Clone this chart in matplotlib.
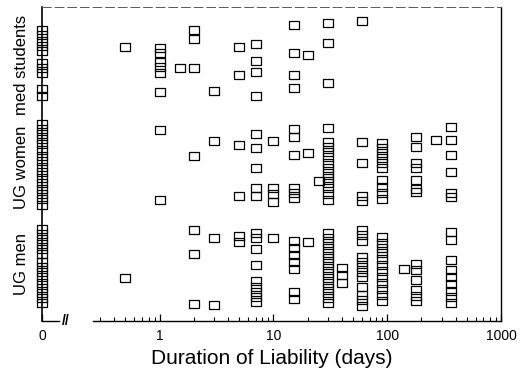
import matplotlib
matplotlib.use("Agg")
import matplotlib.pyplot as plt
import matplotlib.transforms as mtransforms
import numpy as np

plt.rcParams["font.family"] = ["Liberation Sans", "DejaVu Sans"]

# ── Data: duration in days (0 = no liability) and vertical jitter row ─────────
med_days = [0, 0, 0, 0, 0, 0, 0, 0, 0, 0,
            0.5, 1, 1, 1, 1, 1, 1, 1.5, 2, 2, 2, 3, 5, 5,
            7, 7, 7, 7, 15, 15, 15, 15, 20, 30, 30, 30, 60]
med_pos = [30, 35, 41, 46, 51, 63, 68, 73, 89, 96,
           47, 48, 53, 62, 67, 73, 92, 68, 30, 39, 68, 91, 47, 75,
           44, 61, 72, 96, 25, 53, 75, 88, 55, 23, 43, 83, 21]

women_days = ([0] * 16 +
              [1, 1, 2, 3, 5, 5, 7, 7, 7, 7, 7, 10, 10, 10, 10,
               15, 15, 15, 15, 15, 15, 20, 25] +
              [30] * 13 + [60] * 4 + [90] * 10 + [180] * 7 + [270] +
              [365] * 6)
women_pos = [124, 129, 134, 139, 144, 150, 156, 161, 167, 172, 178, 183,
             189, 194, 199, 205,
             130, 200, 156, 141, 145, 196, 134, 148, 168, 188, 196,
             141, 188, 194, 202, 129, 137, 155, 188, 193, 198, 153, 181,
             128, 142, 147, 152, 157, 163, 168, 173, 178, 183, 188, 194, 200,
             142, 163, 196, 201,
             143, 148, 153, 158, 163, 168, 180, 187, 193, 199,
             137, 147, 163, 168, 180, 189, 192,
             140,
             127, 140, 155, 172, 193, 197]

men_days = ([0] * 15 +
            [0.5, 2, 2, 2, 3, 3, 5, 5] + [7] * 9 + [10] + [15] * 7 + [20] +
            [30] * 15 + [40] * 3 + [60] * 12 + [90] * 12 + [140] +
            [180] * 6 + [365] * 9)
men_pos = [229, 234, 239, 244, 249, 254, 262, 267, 272, 277, 283, 288, 293,
           298, 303,
           278, 230, 254, 304, 238, 305, 236, 242,
           233, 238, 249, 265, 281, 287, 292, 297, 302,
           238,
           241, 248, 255, 262, 269, 292, 299,
           242,
           233, 238, 243, 248, 253, 258, 263, 268, 273, 278, 283, 288, 293,
           298, 303,
           268, 275, 283,
           230, 235, 241, 257, 262, 267, 272, 277, 287, 295, 300, 306,
           237, 243, 248, 253, 259, 265, 271, 277, 283, 289, 295, 301,
           269,
           264, 270, 280, 290, 296, 301,
           232, 240, 260, 270, 277, 284, 291, 297, 303]

group_labels = ["med students", "UG women", "UG men"]
group_centres = [65, 167, 264]

major_ticks = [0, 1, 10, 100, 1000]
major_labels = ["0", "1", "10", "100", "1000"]
minor_ticks = ([0.3, 0.4, 0.5, 0.6, 0.7, 0.8, 0.9] +
               [2, 3, 4, 5, 6, 7, 8, 9] +
               [20, 30, 40, 50, 60, 70, 80, 90] +
               [200, 300, 400, 500, 600, 700, 800, 900])

# zero sits a little below 0.1 on the log axis, past a break
ZERO_AT = -1.035


def fwd(x):
    x = np.asarray(x, dtype=float)
    return np.where(x > 0, np.log10(np.maximum(x, 1e-12)), ZERO_AT)


def inv(u):
    u = np.asarray(u, dtype=float)
    return np.where(u <= ZERO_AT + 1e-9, 0.0, 10.0 ** u)


# ── Plot ──────────────────────────────────────────────────────────────────────
fig = plt.figure(figsize=(5.21, 3.77), dpi=100)
ax = fig.add_axes([0.0806, 0.1485, 0.881, 0.833])
ax.set_xscale("function", functions=(fwd, inv))
ax.set_xlim(0, 1000)
ax.set_ylim(321, 7)

box = [(-1, -0.8), (1, -0.8), (1, 0.8), (-1, 0.8), (-1, -0.8)]
for days, pos in [(med_days, med_pos), (women_days, women_pos),
                  (men_days, men_pos)]:
    ax.plot(days, pos, linestyle="none", marker=box, markersize=6.6,
            markerfacecolor="none", markeredgecolor="black",
            markeredgewidth=0.9, clip_on=False)

# group names down the left side
for label, yc in zip(group_labels, group_centres):
    ax.text(-0.045, yc, label, rotation=90, ha="center", va="center",
            fontsize=12, transform=mtransforms.blended_transform_factory(
                ax.transAxes, ax.transData))

# axes frame: broken bottom axis, faint top line
ax.spines["bottom"].set_visible(False)
ax.spines["top"].set_linestyle((0, (9, 4)))
ax.spines["top"].set_linewidth(0.7)
ax.spines["top"].set_color("0.35")
ax.spines["left"].set_linewidth(1.2)
ax.spines["right"].set_linewidth(1.0)

bt = mtransforms.blended_transform_factory(ax.transData, ax.transAxes)
ax.plot([0, 0.13], [0, 0], color="black", lw=1.0, transform=bt,
        clip_on=False)
ax.plot([0.26, 1000], [0, 0], color="black", lw=1.0, transform=bt,
        clip_on=False)
ax.text(0.15, 0, "//", ha="center", va="center", fontsize=10,
        fontweight="bold", transform=bt)

ax.set_xticks(major_ticks)
ax.set_xticklabels(major_labels, fontsize=10)
ax.set_xticks(minor_ticks, minor=True)
ax.tick_params(axis="x", which="major", direction="in", length=5, width=0.9,
               pad=6)
ax.tick_params(axis="x", which="minor", direction="in", length=3, width=0.8)
ax.set_yticks([])

ax.set_xlabel("Duration of Liability (days)", fontsize=15, labelpad=4)

fig.savefig("out.png", dpi=100)
plt.close(fig)
